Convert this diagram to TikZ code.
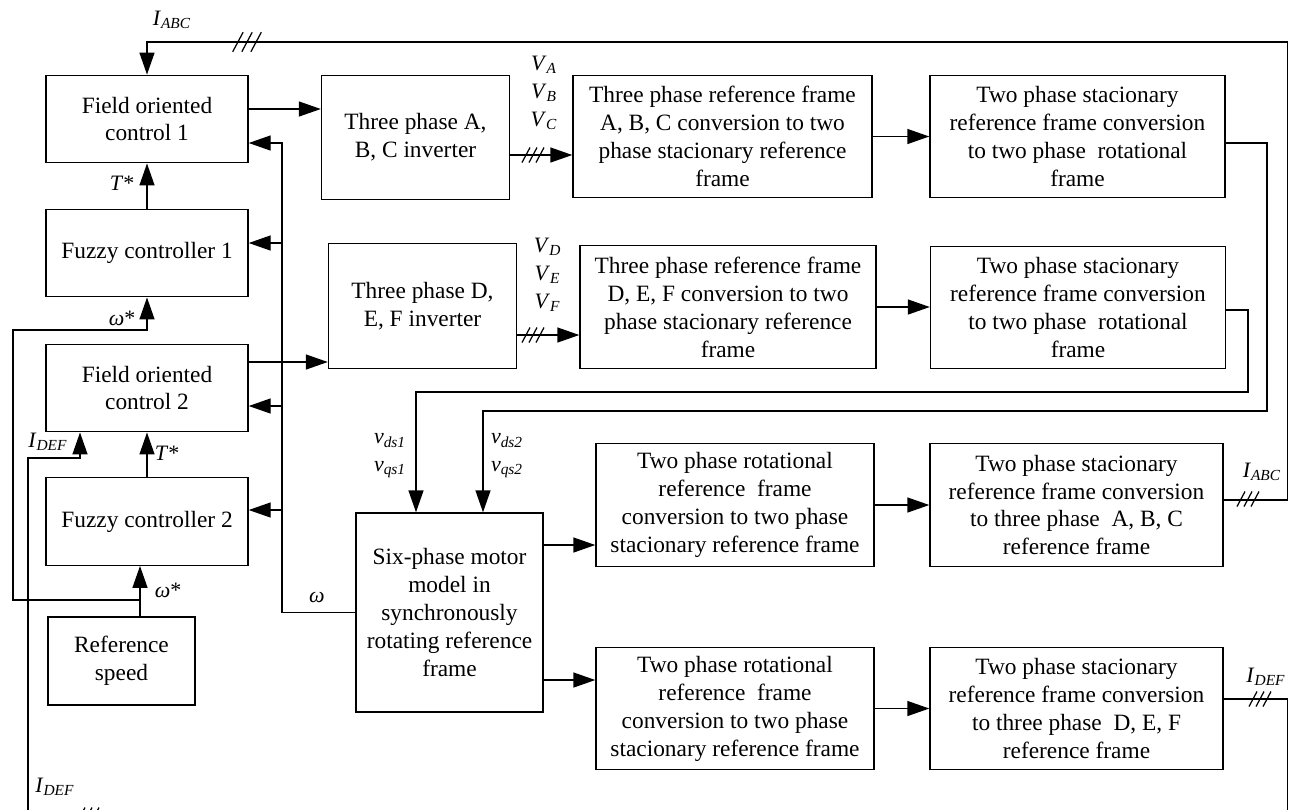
\documentclass[tikz,border=0pt]{standalone}
\usepackage{fontspec}
\setmainfont{Liberation Serif}
\usetikzlibrary{arrows.meta}
\newcommand{\sig}[2]{\textit{#1}\textsubscript{\textit{#2}}}

\begin{document}
\begin{tikzpicture}[
  font=\fontsize{13.3}{15.9}\selectfont,
  line width=0.8pt,
  blk/.style={draw, line width=0.8pt, align=center, inner sep=2pt},
  ctl/.style={blk, minimum width=4.04cm, minimum height=1.75cm},
  inv/.style={blk, minimum width=3.76cm, minimum height=2.49cm},
  conv/.style={blk, minimum width=5.9cm, minimum height=2.45cm},
  lbl/.style={font=\fontsize{12.5}{15.9}\selectfont, inner sep=1pt, align=center},
  >={Triangle[length=0.44cm,width=0.3cm]},
  tslash/.pic={\foreach \d in {-1,0,1} \draw[line width=0.7pt] ({\d*0.14-0.08},-0.15) -- ++(0.16,0.3);}
]
\useasboundingbox (0,0) rectangle (25.9,-16.18);
\clip (0,0) rectangle (25.9,-16.18);

% control side
\node[ctl] (foc1) at (2.94,-2.38) {Field oriented\\control 1};
\node[ctl] (fz1) at (2.94,-5.06) {Fuzzy controller 1};
\node[ctl] (foc2) at (2.94,-7.76) {Field oriented\\control 2};
\node[ctl] (fz2) at (2.94,-10.43) {Fuzzy controller 2};
\node[blk, minimum width=2.94cm, minimum height=1.76cm] (refsp) at (2.43,-13.22) {Reference\\speed};

% inverters and frame conversions
\node[inv] (inv1) at (8.31,-2.75) {Three phase A,\\B, C inverter};
\node[inv] (inv2) at (8.45,-6.12) {Three phase D,\\E, F inverter};
\node[conv, minimum width=5.98cm] (conv1) at (14.45,-2.73) {Three phase reference frame\\A, B, C conversion to two\\phase stacionary reference\\frame};
\node[conv, minimum width=5.92cm] (conv2) at (14.56,-6.14) {Three phase reference frame\\D, E, F conversion to two\\phase stacionary reference\\frame};
\node[conv] (rot1) at (21.55,-2.73) {Two phase stacionary\\reference frame conversion\\to two phase~ rotational\\frame};
\node[conv] (rot2) at (21.56,-6.15) {Two phase stacionary\\reference frame conversion\\to two phase~ rotational\\frame};

% motor side
\node[blk, minimum width=3.74cm, minimum height=3.98cm] (motor) at (8.99,-12.25) {Six-phase motor\\model in\\synchronously\\rotating reference\\frame};
\node[conv, minimum width=5.56cm] (rs1) at (14.7,-10.1) {Two phase rotational\\reference~ frame\\conversion to two phase\\stacionary reference frame};
\node[conv, minimum width=5.86cm] (tr1) at (21.53,-10.1) {Two phase stacionary\\reference frame conversion\\to three phase~ A, B, C\\reference frame};
\node[conv, minimum width=5.56cm] (rs2) at (14.7,-14.17) {Two phase rotational\\reference~ frame\\conversion to two phase\\stacionary reference frame};
\node[conv, minimum width=5.86cm] (tr2) at (21.53,-14.17) {Two phase stacionary\\reference frame conversion\\to three phase~ D, E, F\\reference frame};

% labels
\node[lbl] (lIa1) at (3.44,-0.4) {\sig{I}{ABC}};
\node[lbl] (lIa2) at (25.24,-9.44) {\sig{I}{ABC}};
\node[lbl] (lId1) at (25.32,-13.54) {\sig{I}{DEF}};
\node[lbl] (lId2) at (1.1,-15.74) {\sig{I}{DEF}};
\node[lbl] (lId3) at (0.96,-8.84) {\sig{I}{DEF}};
\node[lbl] (lT1) at (2.44,-3.66) {\textit{T}*};
\node[lbl] (lT2) at (3.34,-9.06) {\textit{T}*};
\node[lbl] (lw1) at (2.44,-6.36) {\textit{ω}*};
\node[lbl] (lw2) at (3.36,-11.8) {\textit{ω}*};
\node[lbl] (lw) at (6.34,-11.94) {\textit{ω}};
\node[lbl] (lVabc) at (10.88,-1.86) {\sig{V}{A}\\\sig{V}{B}\\\sig{V}{C}};
\node[lbl] (lVdef) at (10.95,-5.5) {\sig{V}{D}\\\sig{V}{E}\\\sig{V}{F}};
\node[lbl, align=right] (lv1) at (7.8,-9.12) {\sig{v}{ds1}\\\sig{v}{qs1}};
\node[lbl, align=left] (lv2) at (10.14,-9.12) {\sig{v}{ds2}\\\sig{v}{qs2}};

% current feedback A, B, C
\coordinate (cA) at (25.75,-0.84);
\draw[->] ([yshift=0.1cm]tr1.east) -| (cA) -| (foc1.north);
\pic at (24.96,-9.98) {tslash};
\pic[scale=1.3] at (4.94,-0.84) {tslash};

% current feedback D, E, F
\coordinate (cD1) at (25.75,-16.3);
\coordinate (cD2) at (0.56,-16.3);
\coordinate (cD3) at (1.6,-9.16);
\draw[->] ([yshift=0.19cm]tr2.east) -| (cD1) -- (cD2) |- (cD3) -- (cD3 |- foc2.south);
\pic at (25.2,-13.98) {tslash};
\pic at (1.76,-16.3) {tslash};

% speed reference
\coordinate (jw) at (2.8,-12.0);
\coordinate (cW1) at (0.26,-12.0);
\coordinate (cW2) at (2.94,-6.6);
\draw (jw |- refsp.north) -- (jw);
\draw[->] (jw) -- (jw |- fz2.south);
\draw[->] (jw) -- (cW1) |- (cW2) -- (fz1.south);
\draw[->] (fz1) -- (foc1);
\draw[->] (fz2) -- (foc2);

% speed feedback
\coordinate (w1) at (5.64,-2.86);
\coordinate (w2) at (5.64,-4.86);
\coordinate (w3) at (5.64,-8.12);
\coordinate (w4) at (5.64,-10.2);
\draw[->] (motor.west) -| (w1) -- (w1 -| foc1.east);
\foreach \w/\n in {w2/fz1, w3/foc2, w4/fz2}
  \draw[->] (\w) -- (\w -| \n.east);

% forward path
\draw[->] ([yshift=0.2cm]foc1.east) -- ([yshift=0.2cm]foc1.east -| inv1.west);
\draw[->] ([yshift=0.52cm]foc2.east) -- ([yshift=0.52cm]foc2.east -| inv2.west);
\draw[->] ([yshift=-0.35cm]inv1.east) -- ([yshift=-0.35cm]inv1.east -| conv1.west);
\draw[->] ([yshift=-0.58cm]inv2.east) -- ([yshift=-0.58cm]inv2.east -| conv2.west);
\pic at (10.66,-3.1) {tslash};
\pic at (10.66,-6.7) {tslash};
\draw[->] (conv1.east) -- (conv1.east -| rot1.west);
\draw[->] (conv2.east) -- (conv2.east -| rot2.west);

% dq voltages to the motor
\coordinate (q1) at (25.34,-8.22);
\coordinate (q2) at (24.96,-7.84);
\coordinate (vd2) at (9.66,-8.22);
\coordinate (vd1) at (8.32,-7.84);
\draw[->] ([yshift=-0.13cm]rot1.east) -| (q1) -- (vd2) -- (vd2 |- motor.north);
\draw[->] ([yshift=-0.05cm]rot2.east) -| (q2) -- (vd1) -- (vd1 |- motor.north);

% motor outputs
\draw[->] ([yshift=1.35cm]motor.east) -- ([yshift=1.35cm]motor.east -| rs1.west);
\draw[->] ([yshift=-1.35cm]motor.east) -- ([yshift=-1.35cm]motor.east -| rs2.west);
\draw[->] (rs1.east) -- (rs1.east -| tr1.west);
\draw[->] (rs2.east) -- (rs2.east -| tr2.west);

\end{tikzpicture}
\end{document}
